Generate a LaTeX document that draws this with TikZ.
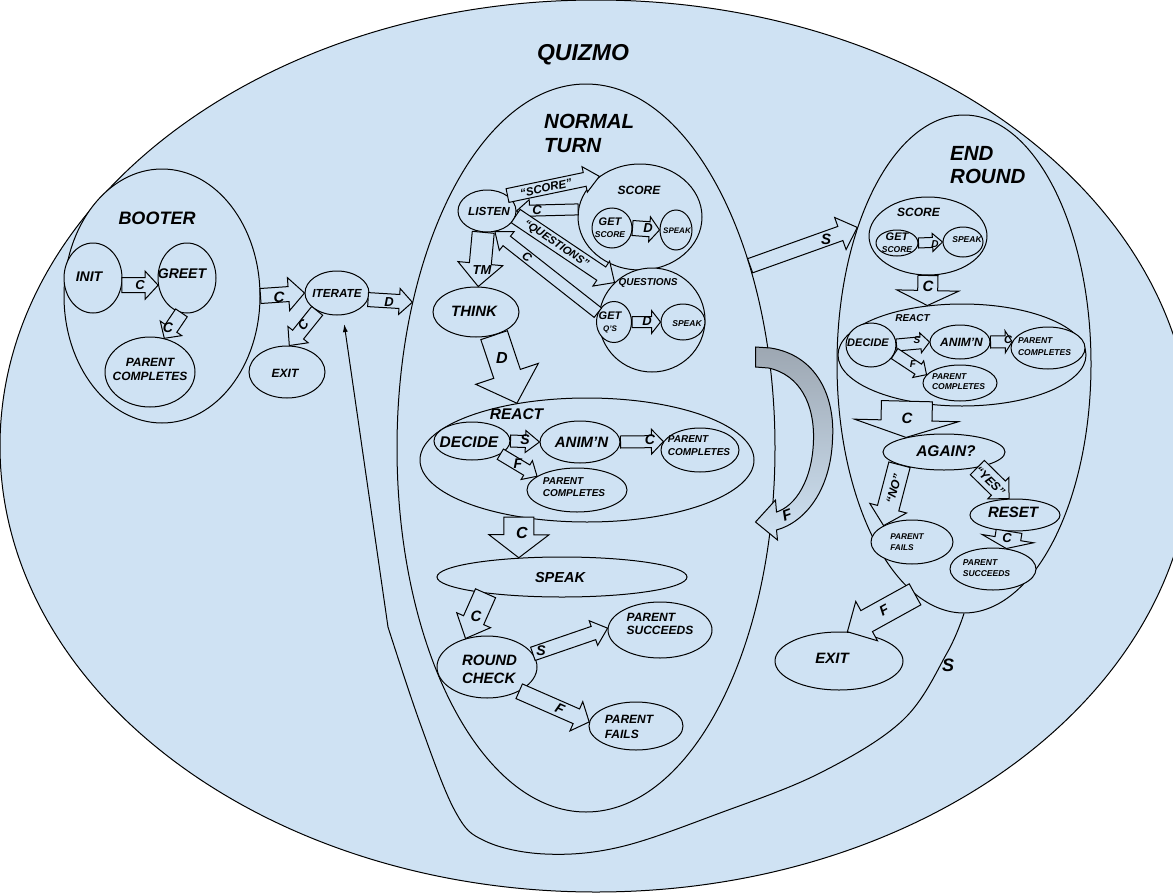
\documentclass[tikz,border=0pt]{standalone}
\usepackage{fontspec}
\setmainfont{Liberation Sans}
\usetikzlibrary{shapes.geometric,calc,arrows.meta}

\definecolor{quizbg}{HTML}{CFE2F3}
\definecolor{bandgray}{HTML}{9DA7B2}

\newcommand{\fs}[2]{\fontsize{#1}{#2}\selectfont\bfseries\itshape}

% hollow block arrow: [opts]{from}{to}{half shaft}{half head}{head length}
\newcommand{\barrow}[6][]{%
  \coordinate (hb) at ($(#3)!#6!(#2)$);
  \draw[blk,#1] ($(#2)!#4!90:(#3)$) -- ($(hb)!#4!-90:(#2)$) -- ($(hb)!#5!-90:(#2)$)
    -- (#3) -- ($(hb)!#5!90:(#2)$) -- ($(hb)!#4!90:(#2)$) -- ($(#2)!#4!-90:(#3)$) -- cycle;
}

\tikzset{
  st/.style={ellipse, draw, fill=quizbg, inner sep=0pt, line width=1pt},
  blk/.style={draw, fill=quizbg, line width=1pt, line join=miter},
  txt/.style={inner sep=0pt, align=center},
}

\begin{document}
\begin{tikzpicture}[x=1pt, y=-1pt]
  \clip (0,0) rectangle (1173,894);
  \fill[white] (0,0) rectangle (1173,894);

  \node[st, minimum width=1192, minimum height=892] (quizmo) at (596,446) {};
  \node[txt, font=\fs{23}{26}] (tquizmo) at (583,55) {QUIZMO};

  % booter
  \node[st, minimum width=196, minimum height=254] (booter) at (162,296) {};
  \node[txt, font=\fs{18}{20}] (tbooter) at (157,218) {BOOTER};
  \node[st, minimum width=58, minimum height=70] (init) at (93,278) {};
  \node[st, minimum width=58, minimum height=70] (greet) at (187,278) {};
  \node[st, minimum width=90, minimum height=70] (bootpc) at (150,372) {};
  \node[st, minimum width=64, minimum height=44] (iterate) at (337,293) {};
  \node[st, minimum width=76, minimum height=52] (bootexit) at (287,372) {};
  \node[txt, font=\fs{14}{16}] (tinit) at (89,277) {INIT};
  \node[txt, font=\fs{14}{16}] (tgreet) at (182,274) {GREET};
  \node[txt, font=\fs{12}{14}] (tbootpc) at (150,369) {PARENT\\COMPLETES};
  \node[txt, font=\fs{11.7}{13}] (titerate) at (337,293) {ITERATE};
  \node[txt, font=\fs{12}{14}] (tbootexit) at (285,373) {EXIT};

  % normal turn
  \node[st, minimum width=378, minimum height=728] (nt) at (586,448) {};
  \node[txt, align=left, anchor=north west, font=\fs{20.5}{24}] (tnt) at (544,114) {NORMAL\\TURN};
  \node[st, minimum width=58, minimum height=42] (listen) at (487,211) {};
  \node[st, minimum width=124, minimum height=106] (ntscore) at (640,217) {};
  \node[st, minimum width=40, minimum height=40] (ntgetscore) at (612,228) {};
  \node[st, minimum width=32, minimum height=40] (ntspeaka) at (676,230) {};
  \node[st, minimum width=86, minimum height=50] (think) at (476,312) {};
  \node[st, minimum width=106, minimum height=104] (ntquest) at (652,320) {};
  \node[st, minimum width=35, minimum height=41] (ntgetq) at (614,322) {};
  \node[st, minimum width=44, minimum height=36] (ntspeakb) at (683,322) {};
  \node[st, minimum width=334, minimum height=124] (ntreact) at (587,460) {};
  \node[st, minimum width=76, minimum height=38] (ntdecide) at (472,441) {};
  \node[st, minimum width=80, minimum height=42] (ntanim) at (580,442) {};
  \node[st, minimum width=78, minimum height=44] (ntpca) at (700,450) {};
  \node[st, minimum width=100, minimum height=44] (ntpcb) at (577,490) {};
  \node[st, minimum width=250, minimum height=40] (ntspeak) at (562,577) {};
  \node[st, minimum width=100, minimum height=62] (rcheck) at (487,667) {};
  \node[st, minimum width=104, minimum height=56] (ntsucc) at (660,630) {};
  \node[st, minimum width=94, minimum height=48] (ntfail) at (636,726) {};
  \node[txt, font=\fs{11.7}{13}] (tlisten) at (489,211) {LISTEN};
  \node[txt, font=\fs{12}{14}] (tntscore) at (639,190.5) {SCORE};
  \node[txt] (tntgetscore) at (610,228) {\fs{11}{11}GET\\\fs{8.5}{11.5}SCORE};
  \node[txt, font=\fs{8}{10}] (tntspeaka) at (677,231) {SPEAK};
  \node[txt, font=\fs{15}{17}] (tthink) at (474,311) {THINK};
  \node[txt, font=\fs{10}{12}] (tntquest) at (648,282.5) {QUESTIONS};
  \node[txt] (tntgetq) at (610,322) {\fs{11}{11}GET\\\fs{8}{12.5}Q'S};
  \node[txt, font=\fs{8.5}{10}] (tntspeakb) at (687,323.5) {SPEAK};
  \node[txt, font=\fs{15.5}{17}] (tntreact) at (516.5,414) {REACT};
  \node[txt, font=\fs{15.5}{17}] (tntdecide) at (469,442.5) {DECIDE};
  \node[txt, font=\fs{15}{17}] (tntanim) at (581.5,442.5) {ANIM'N};
  \node[txt, align=left, font=\fs{10}{13}] (tntpca) at (699,445.5) {PARENT\\COMPLETES};
  \node[txt, align=left, font=\fs{10}{12.5}] (tntpcb) at (574,487) {PARENT\\COMPLETES};
  \node[txt, font=\fs{14.5}{17}] (tntspeak) at (560,577.5) {SPEAK};
  \node[txt, align=left, font=\fs{15}{18}] (trcheck) at (489.5,669.5) {ROUND\\CHECK};
  \node[txt, align=left, font=\fs{12}{13.5}] (tntsucc) at (660,624) {PARENT\\SUCCEEDS};
  \node[txt, align=left, font=\fs{12}{14.5}] (tntfail) at (629,727) {PARENT\\FAILS};

  % end round
  \node[st, minimum width=254, minimum height=498] (er) at (964,364) {};
  \node[txt, align=left, anchor=north west, font=\fs{20.5}{23.5}] (ter) at (950,146) {END\\ROUND};
  \node[st, minimum width=118, minimum height=78] (erscore) at (928,236) {};
  \node[st, minimum width=42, minimum height=26] (ergetscore) at (897,243) {};
  \node[st, minimum width=40, minimum height=30] (erspeak) at (963,242) {};
  \node[st, minimum width=248, minimum height=102] (erreact) at (962,355) {};
  \node[st, minimum width=50, minimum height=44] (erdecide) at (871,345) {};
  \node[st, minimum width=60, minimum height=34] (eranim) at (960,342) {};
  \node[st, minimum width=74, minimum height=42] (erpca) at (1048,348) {};
  \node[st, minimum width=74, minimum height=36] (erpcb) at (960,383) {};
  \node[st, minimum width=122, minimum height=36] (again) at (944,452) {};
  \node[st, minimum width=90, minimum height=32] (reset) at (1015,515) {};
  \node[st, minimum width=82, minimum height=44] (erfail) at (912,542) {};
  \node[st, minimum width=86, minimum height=42] (ersucc) at (993,569) {};
  \node[st, minimum width=128, minimum height=58] (erexit) at (839,661) {};
  \node[txt, font=\fs{12}{14}] (terscore) at (918.5,212) {SCORE};
  \node[txt] (tergetscore) at (897,243) {\fs{11}{11}GET\\\fs{8.5}{11.5}SCORE};
  \node[txt, font=\fs{8.5}{10}] (terspeak) at (967,240) {SPEAK};
  \node[txt, font=\fs{10}{12}] (terreact) at (912.5,318) {REACT};
  \node[txt, font=\fs{11}{13}] (terdecide) at (868,342.5) {DECIDE};
  \node[txt, font=\fs{12}{14}] (teranim) at (961.5,342) {ANIM'N};
  \node[txt, align=left, font=\fs{8.5}{12}] (terpca) at (1044.5,347) {PARENT\\COMPLETES};
  \node[txt, align=left, font=\fs{8.5}{10}] (terpcb) at (958.5,381.5) {PARENT\\COMPLETES};
  \node[txt, font=\fs{15.5}{17}] (tagain) at (946,451) {AGAIN?};
  \node[txt, font=\fs{15}{17}] (treset) at (1013,512.5) {RESET};
  \node[txt, align=left, font=\fs{8.3}{10.5}] (terfail) at (907,542) {PARENT\\FAILS};
  \node[txt, align=left, font=\fs{8.5}{10.5}] (tersucc) at (986.5,568) {PARENT\\SUCCEEDS};
  \node[txt, font=\fs{15}{17}] (terexit) at (832,658) {EXIT};

  % loop back from end round to iterate
  \draw[line width=1pt, -{Latex[length=8pt,width=5pt]}, shorten >=9pt]
    plot[smooth, tension=0.6] coordinates {(er.south) (947,653) (903,720) (820,773) (720,813)
      (620,847) (545,854) (485,841) (455,811) (420,723) (388,627)} -- (iterate.-75);

  % failed turn, grey band back into normal turn
  \begin{scope}[shift={(nt.east)}]
    \draw[line width=1pt, top color=bandgray, bottom color=quizbg, line join=miter]
      (-20,-101) -- (-5,-100) .. controls (40,-93) and (60,-53) .. (57,-8)
      .. controls (55,42) and (30,74) .. (1,82) -- (2,92) -- (-20,74) -- (0,52) -- (1,64)
      .. controls (20,58) and (37,32) .. (38,-8) .. controls (39,-43) and (25,-73) .. (-7,-80)
      -- (-20,-81) -- cycle;
  \end{scope}

  % booter arrows
  \barrow{init.-14}{greet.194}{7.5pt}{14pt}{13pt}
  \barrow{greet.-99}{bootpc.67}{7pt}{13pt}{12pt}
  \barrow{booter.east}{iterate.west}{7.5pt}{16.5pt}{16pt}
  \barrow{iterate.-12}{nt.140}{7pt}{13pt}{13pt}
  \barrow{iterate.222}{bootexit.85}{7pt}{13pt}{14pt}

  % normal turn arrows
  \barrow{listen.37}{ntscore.135}{7pt}{13pt}{15pt}
  \barrow{ntscore.173}{listen.east}{5.5pt}{11pt}{13pt}
  \barrow{ntgetq.150}{listen.-69}{6pt}{12pt}{15pt}
  \barrow{listen.-10}{ntquest.135}{8pt}{15pt}{16pt}
  \barrow{ntgetscore.east}{ntspeaka.west}{7.5pt}{12.5pt}{10pt}
  \barrow{ntgetq.east}{ntspeakb.west}{5.5pt}{11.5pt}{9pt}
  \barrow{listen.-100}{think.85}{11pt}{22.5pt}{23pt}
  \barrow{think.-52}{ntreact.141}{14pt}{33pt}{31pt}
  \barrow{ntdecide.east}{ntanim.west}{6pt}{11pt}{14pt}
  \barrow{ntanim.east}{ntpca.167}{6pt}{12.5pt}{12pt}
  \barrow{ntdecide.-25}{ntpcb.161}{6pt}{11pt}{12pt}
  \barrow{ntreact.220}{ntspeak.156}{15pt}{30pt}{23pt}
  \barrow{ntspeak.192}{rcheck.127}{11pt}{18.5pt}{20pt}
  \barrow{rcheck.16}{ntsucc.178}{7pt}{13pt}{15pt}
  \barrow{rcheck.-37}{ntfail.175}{8pt}{16pt}{14pt}
  \barrow{nt.48}{er.128}{7.5pt}{17pt}{18pt}

  % end round arrows
  \barrow{ergetscore.east}{erspeak.west}{5pt}{9pt}{10pt}
  \barrow{erscore.south}{erreact.125}{10pt}{31pt}{15pt}
  \barrow{erdecide.east}{eranim.west}{6pt}{10pt}{9pt}
  \barrow{eranim.east}{erpca.170}{6pt}{11pt}{7pt}
  \barrow{erdecide.-20}{erpcb.166}{6pt}{10pt}{10pt}
  \barrow{erreact.220}{again.159}{25.5pt}{52pt}{17pt}
  \barrow{again.196}{erfail.150}{11pt}{19pt}{18pt}
  \barrow{again.-25}{reset.110}{10pt}{15pt}{15pt}
  \barrow{reset.-110}{ersucc.57}{13pt}{26pt}{10pt}
  \barrow{er.-102}{erexit.74}{12pt}{22.5pt}{22pt}

  % arrow labels
  \node[txt, font=\fs{13}{15}] (lbl1) at (140,285) {C};
  \node[txt, font=\fs{14}{16}] (lbl2) at (168,328) {C};
  \node[txt, font=\fs{15}{17}] (lbl3) at (279,297.5) {C};
  \node[txt, font=\fs{13}{15}] (lbl4) at (389,302) {D};
  \node[txt, font=\fs{13}{15}, rotate=51] (lbl5) at (303,325) {C};
  \node[txt, font=\fs{11.5}{13}, rotate=12] (lbl6) at (546,188) {“SCORE”};
  \node[txt, font=\fs{13}{15}] (lbl7) at (537,210) {C};
  \node[txt, font=\fs{11}{13}, rotate=-34] (lbl8) at (556,244) {“QUESTIONS”};
  \node[txt, font=\fs{12}{14}, rotate=-38] (lbl9) at (527,256.5) {C};
  \node[txt, font=\fs{13}{15}] (lbl10) at (648,228) {D};
  \node[txt, font=\fs{13}{15}] (lbl11) at (647,321) {D};
  \node[txt, font=\fs{13}{15}] (lbl12) at (482,270) {TM};
  \node[txt, font=\fs{16}{18}] (lbl13) at (502,358) {D};
  \node[txt, font=\fs{14}{16}] (lbl14) at (525,440) {S};
  \node[txt, font=\fs{14}{16}] (lbl15) at (650,440) {C};
  \node[txt, font=\fs{14}{16}] (lbl16) at (518,464) {F};
  \node[txt, font=\fs{16}{18}] (lbl17) at (522,533) {C};
  \node[txt, font=\fs{15}{17}] (lbl18) at (476,616) {C};
  \node[txt, font=\fs{14}{16}] (lbl19) at (541,651) {S};
  \node[txt, font=\fs{14}{16}, rotate=-24] (lbl20) at (560,709) {F};
  \node[txt, font=\fs{15}{17}] (lbl21) at (826,239) {S};
  \node[txt, font=\fs{15}{17}, rotate=20] (lbl22) at (787,515) {F};
  \node[txt, font=\fs{10}{12}] (lbl23) at (935,244) {D};
  \node[txt, font=\fs{15}{17}] (lbl24) at (928,286) {C};
  \node[txt, font=\fs{10}{12}] (lbl25) at (917,340) {S};
  \node[txt, font=\fs{11}{13}] (lbl26) at (1008,340) {C};
  \node[txt, font=\fs{10}{12}] (lbl27) at (913,364) {F};
  \node[txt, font=\fs{15}{17}] (lbl28) at (907,418) {C};
  \node[txt, font=\fs{12}{14}, rotate=74] (lbl29) at (894,489) {“NO”};
  \node[txt, font=\fs{12}{14}, rotate=-44] (lbl30) at (990,481) {“YES”};
  \node[txt, font=\fs{13}{15}] (lbl31) at (1007,538) {C};
  \node[txt, font=\fs{14}{16}, rotate=29] (lbl32) at (884,610) {F};
  \node[txt, font=\fs{18}{20}] (lbl33) at (948,665) {S};
\end{tikzpicture}
\end{document}
